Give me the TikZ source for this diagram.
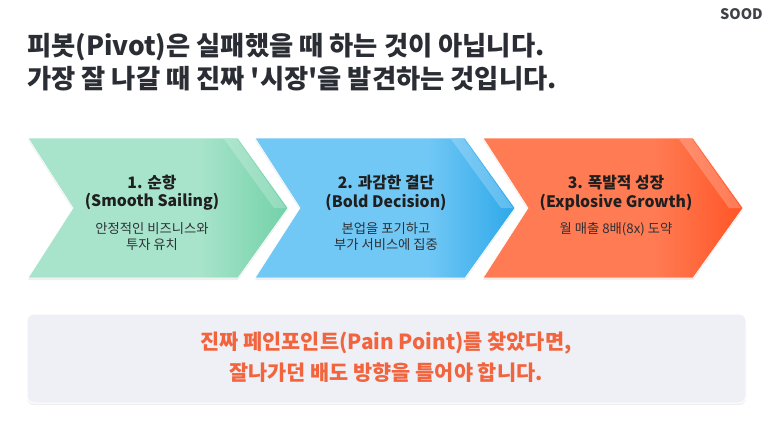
\documentclass[tikz,border=0pt]{standalone}
\usepackage{fontspec}
\setmainfont{Noto Sans CJK KR}[Ligatures=TeXOff]
\usetikzlibrary{shadows}
\definecolor{ttl}{HTML}{2A2D33}
\definecolor{gbase}{HTML}{A8E4CB}
\definecolor{gdark}{HTML}{72D1A8}
\definecolor{bbase}{HTML}{72C8F5}
\definecolor{bdark}{HTML}{2EA8EA}
\definecolor{obase}{HTML}{FF7B53}
\definecolor{odark}{HTML}{FF5527}
\definecolor{boxfill}{HTML}{EEF0F5}
\definecolor{accent}{HTML}{F2643E}
\definecolor{desc}{HTML}{2E3035}
\pgfdeclarehorizontalshading{gshade}{100bp}{color(0bp)=(gbase); color(58bp)=(gbase); color(75bp)=(gdark); color(100bp)=(gdark)}
\pgfdeclarehorizontalshading{bshade}{100bp}{color(0bp)=(bbase); color(58bp)=(bbase); color(75bp)=(bdark); color(100bp)=(bdark)}
\pgfdeclarehorizontalshading{oshade}{100bp}{color(0bp)=(obase); color(58bp)=(obase); color(75bp)=(odark); color(100bp)=(odark)}
\tikzset{
  chev/.style={draw=white, line width=0.6pt, drop shadow={opacity=0.12, shadow xshift=0pt, shadow yshift=-2pt}},
  ttltext/.style={font=\fontsize{26.3}{30}\selectfont\bfseries, text=ttl, inner sep=0pt, anchor=base west},
  chtitle/.style={font=\fontsize{15.8}{18}\selectfont\bfseries, text=black!88, inner sep=0pt},
  chdesc/.style={font=\fontsize{13.3}{16.5}\selectfont, text=desc, inner sep=0pt, align=center, anchor=north},
  boxtext/.style={font=\fontsize{20.8}{31}\selectfont\bfseries, text=accent, inner sep=0pt, align=center},
}
\newcommand{\chevpath}[1]{(#1,138) -- ++(210,0) -- ++(50,70) -- ++(-50,70) -- ++(-210,0) -- ++(45,-70) -- cycle}
\newcommand{\chevgloss}[1]{(#1+196,139) -- (#1+209,139) -- (#1+258,208) -- (#1+246,208) -- cycle}
\begin{document}
\begin{tikzpicture}[x=1pt,y=-1pt]
\useasboundingbox (0,0) rectangle (773,421);
\fill[white] (0,0) rectangle (773,421);
% header
\node[font=\fontsize{14.5}{16}\selectfont\bfseries, text=ttl!90, inner sep=0pt, anchor=east] (brand) at (763,14) {SOOD};
\node[ttltext] (title1) at (27,55) {피봇(Pivot)은 실패했을 때 하는 것이 아닙니다.};
\node[ttltext] (title2) at (27,88) {가장 잘 나갈 때 진짜 '시장'을 발견하는 것입니다.};
% chevrons
\path[chev, shading=gshade] \chevpath{28};
\fill[white, opacity=0.22] \chevgloss{28};
\path[chev, shading=bshade] \chevpath{255};
\fill[white, opacity=0.22] \chevgloss{255};
\path[chev, shading=oshade] \chevpath{483};
\fill[white, opacity=0.22] \chevgloss{483};
% chevron texts
\node[chtitle] (c1t) at (152,183) {1. 순항};
\node[chtitle] (c1s) at (152,202) {(Smooth Sailing)};
\node[chdesc] (c1d) at (152,222) {안정적인 비즈니스와\\투자 유치};
\node[chtitle] (c2t) at (386,183) {2. 과감한 결단};
\node[chtitle] (c2s) at (386,202) {(Bold Decision)};
\node[chdesc] (c2d) at (386,222) {본업을 포기하고\\부가 서비스에 집중};
\node[chtitle] (c3t) at (616,183) {3. 폭발적 성장};
\node[chtitle] (c3s) at (616,202) {(Explosive Growth)};
\node[chdesc] (c3d) at (616,222) {월 매출 8배(8x) 도약};
% bottom box
\path[fill=boxfill, draw=white, line width=1pt, rounded corners=7pt, drop shadow={opacity=0.12, shadow xshift=0pt, shadow yshift=-2pt}] (27,314) rectangle (746,403);
\node[boxtext] (msg) at (386,357) {진짜 페인포인트(Pain Point)를 찾았다면,\\잘나가던 배도 방향을 틀어야 합니다.};
\end{tikzpicture}
\end{document}
